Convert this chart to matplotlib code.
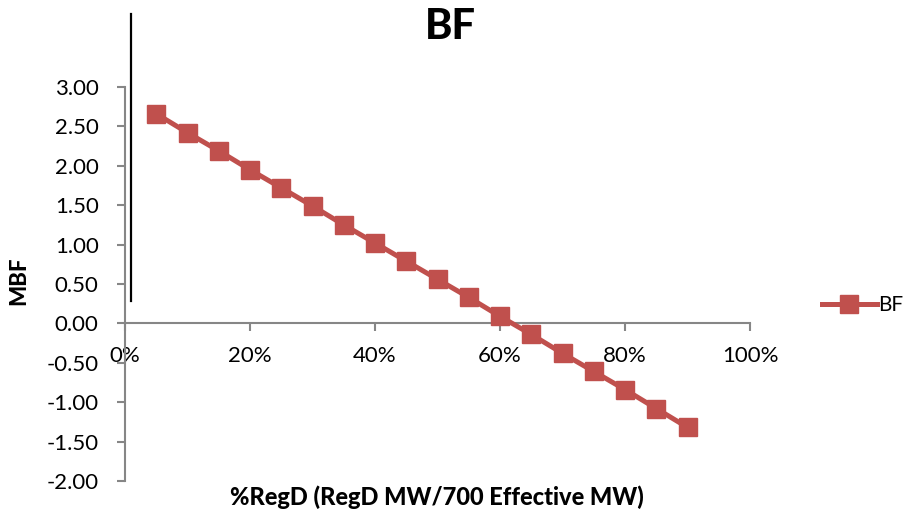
import matplotlib
matplotlib.use("Agg")
import matplotlib.pyplot as plt
from matplotlib.lines import Line2D
from matplotlib.ticker import FuncFormatter, MultipleLocator

plt.rcParams['font.family'] = ['Lato', 'DejaVu Sans']

# share of RegD and the resulting benefit factor
regd_share = [0.05, 0.10, 0.15, 0.20, 0.25, 0.30, 0.35, 0.40, 0.45,
              0.50, 0.55, 0.60, 0.65, 0.70, 0.75, 0.80, 0.85, 0.90]
mbf = [2.66, 2.42, 2.19, 1.95, 1.72, 1.49, 1.25, 1.02, 0.79,
       0.56, 0.33, 0.09, -0.14, -0.38, -0.61, -0.84, -1.08, -1.32]

red = '#C0504D'
axis_grey = '#868686'

fig = plt.figure(figsize=(9.06, 5.16), dpi=100)
ax = fig.add_axes([125 / 906, 1 - 481 / 516, 625 / 906, 394 / 516])

ax.plot(regd_share, mbf, color=red, lw=3.6, marker='s', ms=13.5,
        markeredgecolor=red, label='BF', clip_on=False, zorder=3)

ax.set_xlim(0, 1)
ax.set_ylim(-2, 3)
ax.xaxis.set_major_locator(MultipleLocator(0.2))
ax.yaxis.set_major_locator(MultipleLocator(0.5))
ax.xaxis.set_major_formatter(FuncFormatter(lambda v, p: f"{v * 100:.0f}%"))
ax.yaxis.set_major_formatter(FuncFormatter(lambda v, p: f"{v:.2f}"))

for side in ['top', 'right']:
    ax.spines[side].set_visible(False)
ax.spines['bottom'].set_position(('data', 0))
for side in ['left', 'bottom']:
    ax.spines[side].set_color(axis_grey)
    ax.spines[side].set_linewidth(1.5)

ax.tick_params(axis='y', length=6, width=1.5, color=axis_grey, pad=13,
               labelsize=16, labelcolor='black')
ax.tick_params(axis='x', length=6, width=1.5, color=axis_grey, pad=10,
               labelsize=16, labelcolor='black')

fig.text(450 / 906, 1 - 27 / 516, 'BF', fontsize=30, fontweight='black',
         ha='center', va='center')
fig.text(19 / 906, 1 - 281 / 516, 'MBF', fontsize=16, fontweight='black',
         rotation=90, ha='center', va='center')
fig.text(437 / 906, 1 - 497 / 516, '%RegD (RegD MW/700 Effective MW)',
         fontsize=17, fontweight='black', ha='center', va='center')

# stray vertical rule at the left of the plot
fig.add_artist(Line2D([131 / 906, 131 / 906], [1 - 14 / 516, 1 - 301 / 516],
                      color='black', lw=1.6, transform=fig.transFigure))

leg = ax.legend(loc='center left', bbox_to_anchor=(814 / 906, 1 - 305 / 516),
                bbox_transform=fig.transFigure, frameon=False, fontsize=15,
                handlelength=2.6, handletextpad=0.1, borderaxespad=0)

fig.savefig('out.png', dpi=100)
